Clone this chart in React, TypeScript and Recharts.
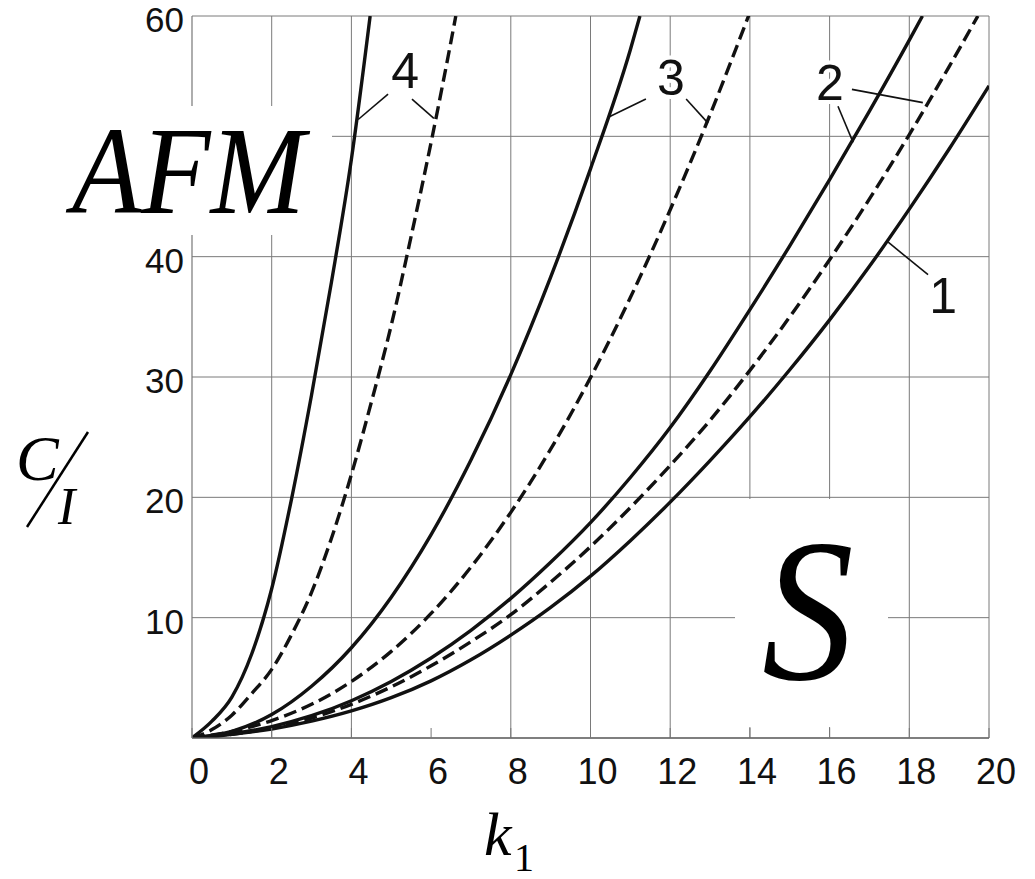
import {
	CartesianGrid,
	Line,
	LineChart,
	ReferenceDot,
	ReferenceLine,
	XAxis,
	YAxis,
} from "recharts";

// axis ticks and grid positions
const kTicks = [0, 2, 4, 6, 8, 10, 12, 14, 16, 18, 20];
const cTicks = [0, 10, 20, 30, 40, 50, 60];
const kGrid = [2, 4, 8, 10, 12, 14, 16, 18, 20];
const cGrid = [10, 20, 30, 40, 50, 60];

// curve 1 (solid)
const curve1K = [0, 1, 2, 3, 4, 5, 6, 7, 8, 9, 10, 11, 12, 13, 14, 15, 16, 17, 18, 19, 20];
const curve1C = [0, 0.3, 0.75, 1.4, 2.25, 3.35, 4.75, 6.5, 8.55, 10.85, 13.45, 16.4, 19.6, 23.05, 26.7, 30.6, 34.75, 39.2, 43.95, 48.95, 54.2];

// curve 2 (solid and dashed)
const curve2K = [0, 1, 2, 3, 4, 5, 6, 7, 8, 9, 10, 11, 12, 13, 14, 15, 16, 17, 18, 18.33];
const curve2C = [0, 0.35, 0.95, 1.85, 3.1, 4.7, 6.65, 8.95, 11.6, 14.6, 17.9, 21.65, 25.8, 30.5, 35.6, 40.9, 46.4, 52.1, 58.0, 60];
const curve2dK = [0, 1, 2, 3, 4, 5, 6, 7, 8, 9, 10, 11, 12, 13, 14, 15, 16, 17, 18, 19, 19.72];
const curve2dC = [0, 0.3, 0.85, 1.65, 2.8, 4.25, 6.0, 8.0, 10.25, 12.95, 15.9, 19.15, 22.65, 26.4, 30.55, 35.0, 39.75, 44.8, 50.15, 55.8, 60];

// curve 3 (solid and dashed)
const curve3K = [0, 1, 2, 3, 4, 5, 6, 7, 8, 9, 10, 11, 11.24];
const curve3C = [0, 0.55, 1.95, 4.3, 7.5, 11.7, 16.9, 23.1, 30.2, 38.3, 47.3, 57.2, 60];
const curve3dK = [0, 1, 2, 3, 4, 5, 6, 7, 8, 9, 10, 11, 12, 13, 14];
const curve3dC = [0, 0.55, 1.45, 2.8, 4.7, 7.2, 10.35, 14.2, 18.75, 24.0, 29.95, 36.6, 43.9, 51.8, 60.3];

// curve 4 (solid and dashed)
const curve4K = [0, 0.5, 1, 1.5, 2, 2.5, 3, 3.5, 4, 4.47];
const curve4C = [0, 1.4, 3.4, 7.0, 12.4, 19.9, 28.5, 37.9, 48.1, 60];
const curve4dK = [0, 0.5, 1, 1.5, 2, 2.5, 3, 3.5, 4, 4.5, 5, 5.5, 6, 6.5, 6.62];
const curve4dC = [0, 0.7, 1.9, 3.7, 5.7, 8.6, 12.1, 16.6, 21.9, 27.9, 34.3, 41.7, 49.5, 57.9, 60];

// curve number labels and their leader lines (data coordinates)
const labelText = ["4", "3", "2", "1"];
const labelK = [5.35, 12.02, 16.01, 18.85];
const labelC = [54.0, 53.45, 53.0, 35.3];
const leaderFrom = [
	[4.92, 53.5],
	[5.52, 53.1],
	[11.39, 53.1],
	[12.4, 53.1],
	[16.21, 52.5],
	[16.56, 53.9],
	[18.47, 38.5],
];
const leaderTo = [
	[4.17, 51.4],
	[6.07, 51.5],
	[10.46, 51.6],
	[12.95, 51.1],
	[16.59, 49.5],
	[18.34, 52.8],
	[17.47, 41.2],
];

const toPoints = (k: number[], c: number[]) => k.map((v, i) => ({ k: v, c: c[i] }));

const series = [
	{ id: "1", data: toPoints(curve1K, curve1C), dashed: false },
	{ id: "2", data: toPoints(curve2K, curve2C), dashed: false },
	{ id: "2d", data: toPoints(curve2dK, curve2dC), dashed: true },
	{ id: "3", data: toPoints(curve3K, curve3C), dashed: false },
	{ id: "3d", data: toPoints(curve3dK, curve3dC), dashed: true },
	{ id: "4", data: toPoints(curve4K, curve4C), dashed: false },
	{ id: "4d", data: toPoints(curve4dK, curve4dC), dashed: true },
];

const sans = "'Liberation Sans', Arial, sans-serif";
const serif = "'Liberation Serif', 'Times New Roman', serif";

function XTick({ x, y, payload }: any) {
	return (
		<g>
			<line x1={x} x2={x} y1={y} y2={y - 10} stroke="#777" strokeWidth={1} />
			<text x={x + 7} y={y + 46} textAnchor="middle" fontFamily={sans} fontSize={36} fill="#111">
				{payload.value}
			</text>
		</g>
	);
}

function YTick({ x, y, payload }: any) {
	// 0 is shared with the k axis, 50 sits under the AFM label
	if (payload.value === 0 || payload.value === 50) return null;
	return (
		<text x={x - 8} y={y + 16} textAnchor="end" fontFamily={sans} fontSize={35} fill="#111">
			{payload.value}
		</text>
	);
}

function CurveLabel(props: any) {
	const { viewBox, text } = props;
	const cx = viewBox.x + (viewBox.width || 0) / 2;
	const cy = viewBox.y + (viewBox.height || 0) / 2;
	return (
		<text
			x={cx}
			y={cy}
			textAnchor="middle"
			fontFamily={sans}
			fontSize={50}
			fill="#111"
			stroke="#fff"
			strokeWidth={8}
			paintOrder="stroke"
		>
			{text}
		</text>
	);
}

export default function App() {
	return (
		<div
			style={{
				position: "absolute",
				left: 0,
				top: 0,
				width: 1035,
				height: 879,
				background: "#fff",
				overflow: "hidden",
			}}
		>
			<LineChart
				width={1035}
				height={879}
				margin={{ top: 16, right: 46, bottom: 81, left: 112 }}
			>
				<CartesianGrid
					stroke="#7a7a7a"
					strokeWidth={1}
					horizontalValues={cGrid}
					verticalValues={kGrid}
				/>
				<XAxis
					type="number"
					dataKey="k"
					domain={[0, 20]}
					ticks={kTicks}
					interval={0}
					height={60}
					tickSize={0}
					tickMargin={0}
					tickLine={false}
					axisLine={{ stroke: "#555", strokeWidth: 1.5 }}
					tick={XTick}
					allowDataOverflow
				/>
				<YAxis
					type="number"
					dataKey="c"
					domain={[0, 60]}
					ticks={cTicks}
					interval={0}
					width={80}
					tickSize={0}
					tickMargin={0}
					tickLine={false}
					axisLine={{ stroke: "#777", strokeWidth: 1.2 }}
					tick={YTick}
					allowDataOverflow
				/>
				{series.map((s) => (
					<Line
						key={s.id}
						data={s.data}
						dataKey="c"
						type="monotone"
						stroke="#111"
						strokeWidth={3.4}
						strokeDasharray={s.dashed ? "13 6" : undefined}
						dot={false}
						activeDot={false}
						isAnimationActive={false}
					/>
				))}
				{leaderFrom.map((p, i) => (
					<ReferenceLine
						key={"leader" + i}
						segment={[
							{ x: p[0], y: p[1] },
							{ x: leaderTo[i][0], y: leaderTo[i][1] },
						]}
						stroke="#111"
						strokeWidth={1.6}
						ifOverflow="visible"
					/>
				))}
				{labelText.map((t, i) => (
					<ReferenceDot
						key={"label" + t}
						x={labelK[i]}
						y={labelC[i]}
						r={1}
						fill="none"
						stroke="none"
						ifOverflow="visible"
						label={(p: any) => <CurveLabel {...p} text={t} />}
					/>
				))}
			</LineChart>
			<svg
				width={1035}
				height={879}
				style={{ position: "absolute", left: 0, top: 0, pointerEvents: "none" }}
			>
				<rect x={60} y={106} width={272} height={129} fill="#fff" />
				<text
					transform="translate(72,213) scale(0.9,1)"
					fontFamily={serif}
					fontStyle="italic"
					fontSize={126}
					fill="#000"
				>
					AFM
				</text>
				<rect x={735} y={499} width={153} height={228} fill="#fff" />
				<text
					transform="translate(762,679) scale(0.9,1)"
					fontFamily={serif}
					fontStyle="italic"
					fontSize={204}
					fill="#000"
				>
					S
				</text>
				<text x={16} y={480} fontFamily={serif} fontStyle="italic" fontSize={64} fill="#000">
					C
				</text>
				<line x1={27} y1={527} x2={88} y2={432} stroke="#000" strokeWidth={2.5} />
				<text x={58} y={524} fontFamily={serif} fontStyle="italic" fontSize={52} fill="#000">
					I
				</text>
				<text x={484} y={855} fontFamily={serif} fontStyle="italic" fontSize={62} fill="#000">
					k
				</text>
				<text x={514} y={871} fontFamily={serif} fontSize={40} fill="#000">
					1
				</text>
			</svg>
		</div>
	);
}
